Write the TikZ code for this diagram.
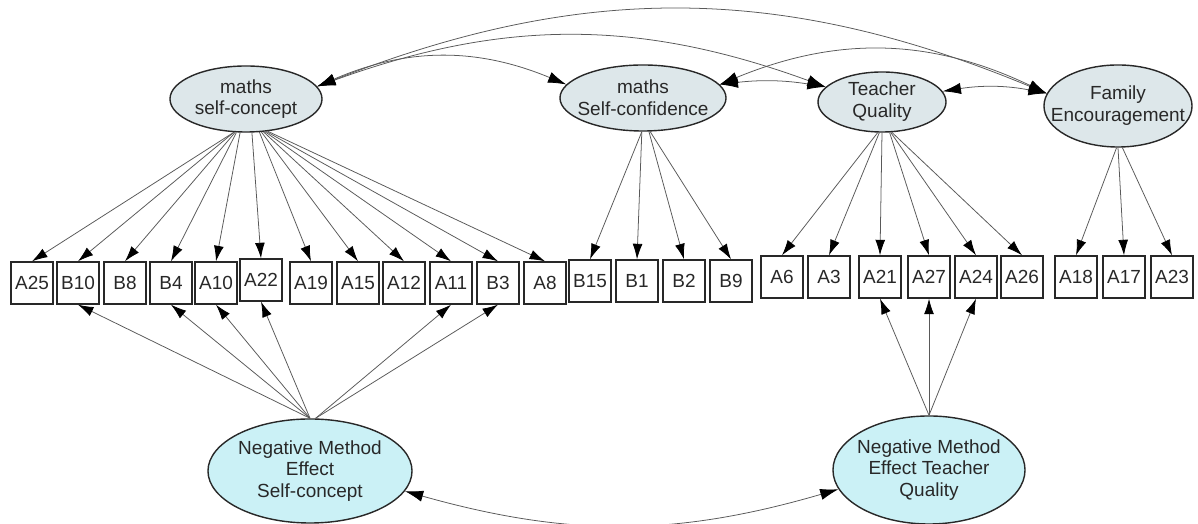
\documentclass[tikz,border=0pt]{standalone}
\usepackage{fontspec}
\setmainfont{Liberation Sans}
\usepackage{tikz}
\usetikzlibrary{arrows.meta,shapes.geometric}
\definecolor{latgray}{RGB}{221,231,234}
\definecolor{methcyan}{RGB}{203,241,246}
\definecolor{inkgray}{RGB}{40,40,40}
\tikzset{
	loadarr/.style={-{Latex[length=11pt,width=7pt,color=black]}, draw=black!65, line width=0.55pt}
}
\tikzstyle{covarr}=[{Latex[length=13pt,width=8pt,color=black]}-{Latex[length=13pt,width=8pt,color=black]}, draw=black!65, line width=0.55pt]
\tikzstyle{lbl}=[align=center, text=inkgray, inner sep=0pt, font=\fontsize{13.5}{15.5}\selectfont]
\tikzstyle{obsbox}=[rectangle, draw=inkgray, line width=1pt, minimum width=1.05cm, minimum height=1.05cm, inner sep=0pt, text=inkgray, font=\fontsize{13.5}{15.5}\selectfont]
\newcommand{\latentEll}[6]{
	\node[ellipse, draw=inkgray, line width=1pt, fill=#1, minimum width=#4, minimum height=#5] (#2) at #3 {};
	\node[lbl] (#2txt) at (#2) {#6};
}

\begin{document}
\begin{tikzpicture}[x=0.025cm, y=0.025cm]
	\useasboundingbox (0,0) rectangle (1198,524);
	\latentEll{latgray}{SC}{(246,425)}{3.8cm}{1.65cm}{maths\\self-concept}
	\latentEll{latgray}{SConf}{(643,426)}{4.15cm}{1.65cm}{maths\\Self-confidence}
	\latentEll{latgray}{TQ}{(882,422)}{3.2cm}{1.5cm}{Teacher\\Quality}
	\latentEll{latgray}{FE}{(1118,418)}{3.7cm}{2.05cm}{Family\\Encouragement}
	\latentEll{methcyan}{NMESC}{(310,53)}{5.1cm}{2.6cm}{Negative Method\\Effect\\Self-concept}
	\latentEll{methcyan}{NMETQ}{(929,54)}{4.8cm}{2.7cm}{Negative Method\\Effect Teacher\\Quality}
	\foreach \n/\x in {A25/32,B10/78,B8/125,B4/171,A10/216,A19/311,A15/358,A12/404,A11/451,B3/498,A8/545}
		\node[obsbox] (\n) at (\x,241) {\n};
	\node[obsbox] (A22) at (261,244) {A22};
	\foreach \n/\x in {B15/590,B1/637,B2/684,B9/731}
		\node[obsbox] (\n) at (\x,243) {\n};
	\foreach \n/\x in {A6/782,A3/829,A21/880,A27/929,A24/976,A26/1022,A18/1076,A17/1124,A23/1172}
		\node[obsbox] (\n) at (\x,247) {\n};
	% loadings
	\foreach \n/\a in {A25/250,B10/250,B8/252,B4/254,A10/260,A22/280,A19/292,A15/295,A12/298,A11/300,B3/302,A8/304}
		\draw[loadarr] (SC.\a) -- (\n.north);
	\foreach \n/\a in {B15/268,B1/268,B2/280,B9/282}
		\draw[loadarr] (SConf.\a) -- (\n.north);
	\foreach \n/\a in {A6/262,A3/265,A21/270,A27/284,A24/286,A26/288}
		\draw[loadarr] (TQ.\a) -- (\n.north);
	\foreach \n/\a in {A18/268,A17/270,A23/276}
		\draw[loadarr] (FE.\a) -- (\n.north);
	\foreach \n/\a in {B10/90,B4/90,A10/90,A22/90,A11/84,B3/84}
		\draw[loadarr] (NMESC.\a) -- (\n.south);
	\foreach \n in {A21,A27,A24}
		\draw[loadarr] (NMETQ.north) -- (\n.south);
	% covariances
	\draw[covarr] (SC.10) to[bend left=23] (SConf.170);
	\draw[covarr] (SC.10) to[bend left=20] (TQ.165);
	\draw[covarr] (SC.10) to[bend left=22] (FE.170);
	\draw[covarr] (SConf.10) to[bend left=8] (TQ.165);
	\draw[covarr] (SConf.10) to[bend left=24] (FE.170);
	\draw[covarr] (TQ.10) to[bend left=10] (FE.170);
	\draw[covarr] (NMESC.-12) to[bend right=16] (NMETQ.192);
\end{tikzpicture}
\end{document}
